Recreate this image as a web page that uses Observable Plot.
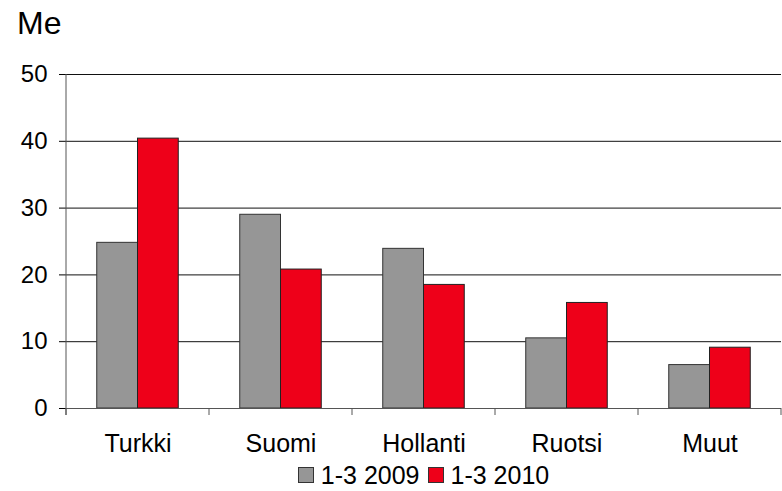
<!DOCTYPE html>
<html>
<head>
<meta charset="utf-8">
<script src="https://cdn.jsdelivr.net/npm/d3@7"></script>
<script src="https://cdn.jsdelivr.net/npm/@observablehq/plot@0.6"></script>
<style>
  html, body { margin: 0; padding: 0; background: #fff; }
  #wrap { width: 782px; height: 491px; position: relative; overflow: hidden; font-family: "Liberation Sans", Arial, sans-serif; color: #000; }
  #title { height: 43px; padding-top: 7px; padding-left: 17px; font-size: 32px; line-height: 32px; }
  #chart svg { display: block; }
  #chart g[aria-label^="x-axis"] { font-family: "Liberation Sans", Arial, sans-serif; font-size: 25px; }
  #legend { width: 782px; height: 24px; box-sizing: border-box; padding-left: 66px; padding-right: 1px; display: flex; justify-content: center; align-items: center; font-size: 25px; line-height: 24px; margin-top: -4px; }
  #legend .item { display: flex; align-items: center; margin: 0 4px; }
  #legend .sw { width: 14px; height: 14px; border: 1px solid #333; margin-right: 7px; }
</style>
</head>
<body>
<div id="wrap">
  <div id="title">Me</div>
  <div id="chart"></div>
  <div id="legend"></div>
</div>
<script>
const categories = ["Turkki", "Suomi", "Hollanti", "Ruotsi", "Muut"];
const series = ["1-3 2009", "1-3 2010"];
const values2009 = [24.8, 29.0, 23.9, 10.5, 6.5];
const values2010 = [40.4, 20.8, 18.5, 15.8, 9.1];
const yTicks = [0, 10, 20, 30, 40, 50];
const colors = ["#969696", "#EE0019"];

const rows2009 = categories.map((c, i) => ({category: c, series: series[0], value: values2009[i]}));
const rows2010 = categories.map((c, i) => ({category: c, series: series[1], value: values2010[i]}));

const W = 782, H = 417, ML = 66, MR = 1, MT = 24, MB = 59;
const step = (W - ML - MR) / categories.length;
const outer = step * 0.215;
const half = step / 2;

function frameLines(index, scales, values, dims) {
  const x = scales.x;
  const g = d3.create("svg:g").attr("stroke", "#555").attr("stroke-width", 1);
  const y0 = dims.height - dims.marginBottom;
  const edges = categories.map(c => x(c)).concat([dims.width - dims.marginRight]);
  g.selectAll("line.t").data(edges).join("line").attr("class", "t")
    .attr("x1", d => d).attr("x2", d => d).attr("y1", y0).attr("y2", y0 + 7);
  g.append("line").attr("x1", dims.marginLeft).attr("x2", dims.marginLeft)
    .attr("y1", dims.marginTop).attr("y2", y0 + 7);
  return g.node();
}

const plot = Plot.plot({
  width: W, height: H,
  marginLeft: ML, marginRight: MR, marginTop: MT, marginBottom: MB,
  style: {fontFamily: "'Liberation Sans', Arial, sans-serif", fontSize: "24px", background: "#fff", color: "#000", overflow: "visible"},
  x: {type: "band", domain: categories, padding: 0, tickSize: 0, tickPadding: 26, label: null},
  y: {domain: [0, 50], ticks: yTicks, tickSize: 7, tickPadding: 12, label: null},
  marks: [
    Plot.ruleY(yTicks.filter(v => v > 0), {stroke: "#111", strokeWidth: 1}),
    Plot.barY(rows2009, {x: "category", y: "value", fill: colors[0], stroke: "#333", strokeWidth: 1, insetLeft: outer, insetRight: half}),
    Plot.barY(rows2010, {x: "category", y: "value", fill: colors[1], stroke: "#222", strokeWidth: 1, insetLeft: half, insetRight: outer}),
    Plot.ruleY([0], {stroke: "#555", strokeWidth: 1}),
    frameLines
  ]
});
document.getElementById("chart").appendChild(plot);

const legend = document.getElementById("legend");
series.forEach((s, i) => {
  const item = document.createElement("div");
  item.className = "item";
  const sw = document.createElement("span");
  sw.className = "sw";
  sw.style.background = colors[i];
  const t = document.createElement("span");
  t.textContent = s;
  item.appendChild(sw);
  item.appendChild(t);
  legend.appendChild(item);
});
</script>
</body>
</html>
